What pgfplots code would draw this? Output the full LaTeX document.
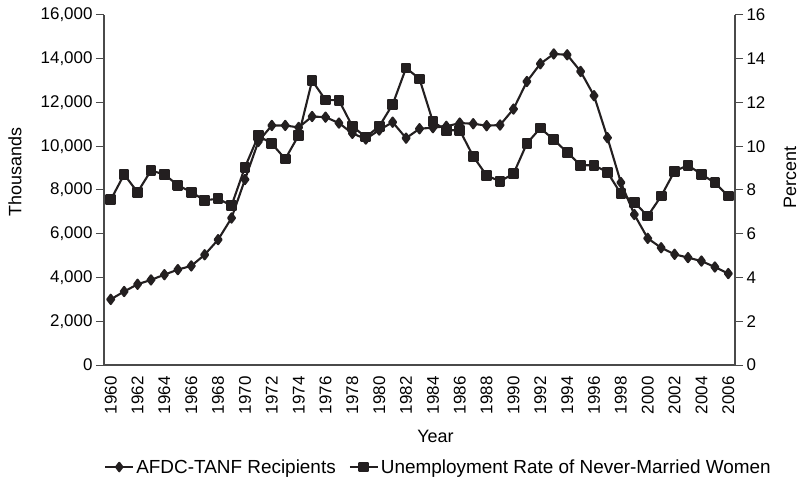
\documentclass[border=0pt]{standalone}
\usepackage{fontspec}
\setmainfont{Liberation Sans}
\usepackage{pgfplots}
\pgfplotsset{compat=1.18}
\definecolor{ink}{HTML}{231F20}
\definecolor{axc}{HTML}{4A4A4A}
\pgfplotstableread{
year afdc
1960 3000
1961 3360
1962 3690
1963 3890
1964 4130
1965 4360
1966 4530
1967 5040
1968 5730
1969 6720
1970 8480
1971 10220
1972 10950
1973 10950
1974 10860
1975 11360
1976 11330
1977 11060
1978 10590
1979 10330
1980 10740
1981 11100
1982 10370
1983 10800
1984 10850
1985 10910
1986 11060
1987 11030
1988 10940
1989 10970
1990 11700
1991 12960
1992 13770
1993 14220
1994 14180
1995 13420
1996 12310
1997 10390
1998 8340
1999 6880
2000 5790
2001 5360
2002 5060
2003 4910
2004 4750
2005 4480
2006 4180
}\afdc
\pgfplotstableread{
year rate
1960 7.55
1961 8.71
1962 7.90
1963 8.89
1964 8.71
1965 8.22
1966 7.90
1967 7.53
1968 7.60
1969 7.29
1970 9.04
1971 10.48
1972 10.12
1973 9.42
1974 10.50
1975 13.00
1976 12.12
1977 12.10
1978 10.91
1979 10.42
1980 10.91
1981 11.91
1982 13.58
1983 13.08
1984 11.12
1985 10.73
1986 10.73
1987 9.54
1988 8.66
1989 8.40
1990 8.74
1991 10.13
1992 10.83
1993 10.30
1994 9.72
1995 9.13
1996 9.13
1997 8.81
1998 7.83
1999 7.43
2000 6.81
2001 7.72
2002 8.86
2003 9.13
2004 8.72
2005 8.33
2006 7.72
}\unemp
\begin{document}
\begin{tikzpicture}
\pgfplotsset{
  common/.style={
    scale only axis, width=631bp, height=350bp,
    xmin=1959.5, xmax=2006.5,
    tick align=outside,
    axis line style={axc, line width=1.2bp, -},
    major tick style={axc, line width=1bp},
    minor tick style={axc, line width=1bp},
    major tick length=8bp,
    minor tick length=8bp,
    /pgf/number format/assume math mode=true,
    ticklabel style={font=\fontsize{17}{20}\selectfont, text=black},
    label style={font=\fontsize{18}{21}\selectfont},
  },
  sline/.style={ink, line width=2.1bp, line join=round},
}
\begin{axis}[common,
  axis x line*=bottom, axis y line*=left,
  ymin=0, ymax=16000, ytick={0,2000,...,16000},
  scaled y ticks=false,
  y tick label style={/pgf/number format/1000 sep={,}},
  xtick={1960,1962,...,2006},
  xtick style={draw=none},
  minor xtick={1959.5,1960.5,...,2006.5},
  x tick label style={/pgf/number format/1000 sep={}, rotate=90, anchor=east},
  xlabel={Year},
  xlabel style={at={(axis description cs:0.5254,-0.2029)}, anchor=center},
  ylabel={Thousands},
  ylabel style={at={(axis description cs:-0.141,0.551)}, anchor=center},
]
\coordinate (O) at (rel axis cs:0,0);
\addplot[sline, mark=diamond*, mark size=4.6bp] table[x=year, y=afdc] {\afdc};
\end{axis}
\begin{axis}[common,
  axis y line*=right, axis x line=none,
  ymin=0, ymax=16, ytick={0,2,...,16},
  ylabel={Percent},
  ylabel style={at={(axis description cs:1.0872,0.536)}, anchor=center},
  legend style={at={(axis description cs:0,0)}, anchor=west, xshift=0bp, yshift=-102bp,
    draw=none, fill=none, inner sep=0pt, font=\fontsize{19}{22}\selectfont,
    /tikz/every even column/.append style={column sep=11bp}},
  legend columns=2,
  legend image code/.code={\draw[mark repeat=2, mark phase=2, #1] plot coordinates {(0bp,0bp) (14bp,0bp) (28bp,0bp)};},
]
\addlegendimage{sline, mark=diamond*, mark size=4.2bp}
\addlegendentry{AFDC-TANF Recipients}
\addplot[sline, mark=square*, mark size=4.3bp] table[x=year, y=rate] {\unemp};
\addlegendentry{Unemployment Rate of Never-Married Women}
\end{axis}
\pgfresetboundingbox
\path[use as bounding box] ([shift={(-104bp,-115bp)}]O) rectangle ([shift={(695bp,365bp)}]O);
\end{tikzpicture}
\end{document}
